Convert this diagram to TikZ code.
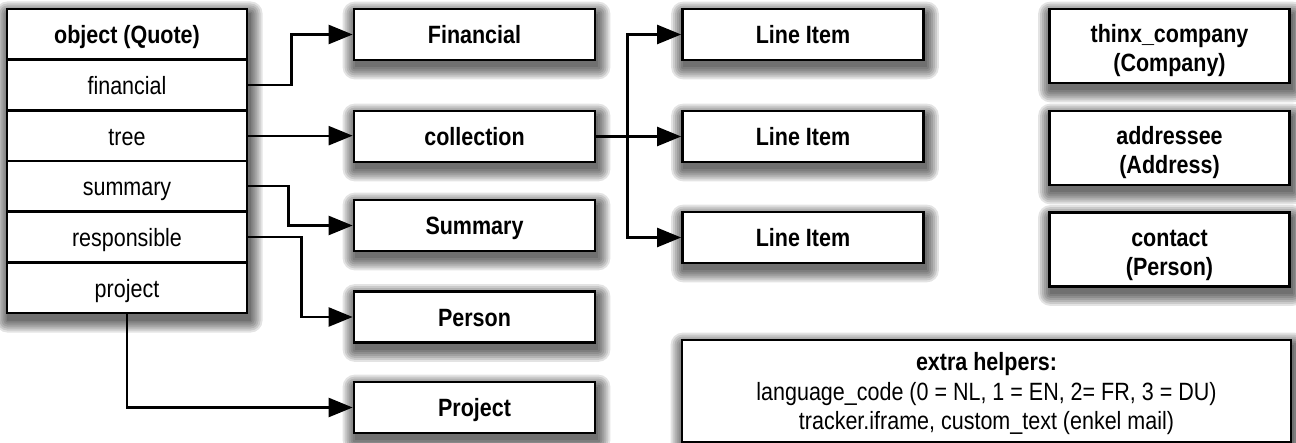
\documentclass[tikz,border=0pt]{standalone}
\usepackage{fontspec}
\setmainfont{Liberation Sans}[FakeStretch=0.86]
\usetikzlibrary{arrows.meta,fit,backgrounds}
\newcommand\mkshadow[1]{%
  \begin{scope}[on background layer]
    \foreach \r in {0,2,4,6,8,10,12} {
      \fill[black, opacity=0.11, rounded corners=\r pt]
        ([shift={(2-\r,6-\r)}]#1.north west) rectangle ([shift={(2+\r,6+\r)}]#1.south east);
    }
  \end{scope}}
\newcommand\ml[1]{\begin{tabular}[t]{@{}c@{}}#1\end{tabular}}
\begin{document}
\begin{tikzpicture}[x=1pt,y=-1pt,
  txt/.style={font=\fontsize{25}{29}\selectfont},
  box/.style={txt, draw=black, line width=2.7pt, fill=white, inner sep=0pt,
    minimum width=241pt, minimum height=51pt},
  one/.style={text height=19pt, text depth=0pt},
  two/.style={minimum width=240pt, minimum height=74pt, text height=0pt, text depth=6pt},
  row/.style={box, one, minimum width=240pt, minimum height=50.67pt},
  conn/.style={line width=2.3pt, -{Triangle[length=24pt,width=19pt]}},
  ]
\useasboundingbox (0,0) rectangle (1296,443);

% table
\node[row] (obj)  at (127,34.33)  {\textbf{object (Quote)}};
\node[row] (fin)  at (127,85)     {financial};
\node[row] (tree) at (127,135.67) {tree};
\node[row] (sum)  at (127,186.33) {summary};
\node[row] (resp) at (127,237)    {responsible};
\node[row] (proj) at (127,287.67) {project};
\node[fit=(obj)(proj), inner sep=0pt] (table) {};
\mkshadow{table}

% middle column
\node[box, one] (financial)  at (474.5,34.5)  {\textbf{Financial}};
\node[box, one] (collection) at (474.5,136.5) {\textbf{collection}};
\node[box, one] (summary)    at (474.5,225.5) {\textbf{Summary}};
\node[box, one] (person)     at (474.5,317)   {\textbf{Person}};
\node[box, one] (project)    at (474.5,407.5) {\textbf{Project}};

% line items
\node[box, one] (li1) at (803,34.5)  {\textbf{Line Item}};
\node[box, one] (li2) at (803,136.5) {\textbf{Line Item}};
\node[box, one] (li3) at (803,237.5) {\textbf{Line Item}};

% right column
\node[box, two] (company) at (1169.5,46)
  {\ml{\textbf{thinx\_company}\\\textbf{(Company)}}};
\node[box, two] (address) at (1169.5,148)
  {\ml{\textbf{addressee}\\\textbf{(Address)}}};
\node[box, two] (contact) at (1169.5,249.5)
  {\ml{\textbf{contact}\\\textbf{(Person)}}};

% helpers
\node[box, font=\fontsize{25}{29.5}\selectfont, minimum width=609pt, minimum height=102pt,
  text height=0pt, text depth=40pt] (helpers) at (986.5,391)
  {\ml{\textbf{extra helpers:}\\language\_code (0 = NL, 1 = EN, 2= FR, 3 = DU)\\tracker.iframe, custom\_text (enkel mail)}};

\foreach \n in {financial,collection,summary,person,project,li1,li2,li3,company,address,contact,helpers}
  {\mkshadow{\n}}

% connectors
\draw[conn] (fin.east) -- ++(43,0) |- (financial.west);
\draw[conn] (tree.east) -- (tree.east -| collection.west);
\draw[conn] (sum.east) -- ++(40,0) |- (summary.west);
\draw[conn] (resp.east) -- ++(53,0) |- (person.west);
\draw[conn] (proj.south) |- (project.west);

\path (collection.east) ++(31,0) coordinate (trunk);
\draw[conn] (collection.east) -- (li2.west);
\draw[conn] (trunk) |- (li1.west);
\draw[conn] (trunk) |- (li3.west);
\end{tikzpicture}
\end{document}
